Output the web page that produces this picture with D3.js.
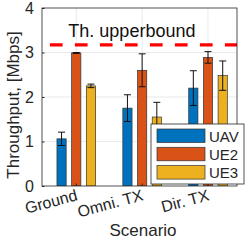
<!DOCTYPE html>
<html>
<head>
<meta charset="utf-8">
<script src="https://cdn.jsdelivr.net/npm/d3@7"></script>
<style>
  html, body { margin: 0; padding: 0; background: #fff; }
  svg { display: block; font-family: "Liberation Sans", Arial, sans-serif; }
</style>
</head>
<body>
<svg id="chart" width="250" height="242"></svg>
<script>
const scenarios = ['Ground', 'Omni. TX', 'Dir. TX'];
const seriesNames = ['UAV', 'UE2', 'UE3'];
const seriesColors = ['#0072BD', '#D95319', '#EDB120'];
const uavMean = [1.06, 1.75, 2.2];
const uavErr = [0.15, 0.3, 0.39];
const ue2Mean = [2.99, 2.6, 2.89];
const ue2Err = [0.01, 0.37, 0.13];
const ue3Mean = [2.25, 1.55, 2.48];
const ue3Err = [0.04, 0.33, 0.33];
const yTicks = [0, 1, 2, 3, 4];
const upperBound = 3.17;

const means = [uavMean, ue2Mean, ue3Mean];
const errs = [uavErr, ue2Err, ue3Err];

const svg = d3.select('#chart');
const plot = { left: 42, right: 237, top: 8, bottom: 186 };

const x = d3.scaleLinear().domain([0.48, 3.44]).range([plot.left, plot.right]);
const y = d3.scaleLinear().domain([0, 4]).range([plot.bottom, plot.top]);
const offset = 0.223;
const barW = 0.14;

svg.append('defs').append('clipPath').attr('id', 'clip')
  .append('rect').attr('x', plot.left).attr('y', plot.top)
  .attr('width', plot.right - plot.left).attr('height', plot.bottom - plot.top);

// grid
const grid = svg.append('g').attr('stroke', '#dcdcdc').attr('stroke-width', 0.6);
yTicks.slice(1, -1).forEach((t) => {
  grid.append('line').attr('x1', plot.left).attr('x2', plot.right).attr('y1', y(t)).attr('y2', y(t));
});
scenarios.forEach((s, i) => {
  grid.append('line').attr('x1', x(i + 1)).attr('x2', x(i + 1)).attr('y1', plot.top).attr('y2', plot.bottom);
});

// bars
const bars = svg.append('g').attr('clip-path', 'url(#clip)');
seriesNames.forEach((name, k) => {
  scenarios.forEach((s, i) => {
    const cx = i + 1 + (k - 1) * offset;
    bars.append('rect')
      .attr('x', x(cx - barW / 2))
      .attr('y', y(means[k][i]))
      .attr('width', x(cx + barW / 2) - x(cx - barW / 2))
      .attr('height', y(0) - y(means[k][i]))
      .attr('fill', seriesColors[k])
      .attr('stroke', '#333')
      .attr('stroke-width', 0.7);
  });
});

// error bars
const eb = svg.append('g').attr('stroke', '#111').attr('stroke-width', 1);
seriesNames.forEach((name, k) => {
  scenarios.forEach((s, i) => {
    const px = x(i + 1 + (k - 1) * offset);
    const lo = y(means[k][i] - errs[k][i]);
    const hi = y(means[k][i] + errs[k][i]);
    eb.append('line').attr('x1', px).attr('x2', px).attr('y1', lo).attr('y2', hi);
    eb.append('line').attr('x1', px - 3.5).attr('x2', px + 3.5).attr('y1', lo).attr('y2', lo);
    eb.append('line').attr('x1', px - 3.5).attr('x2', px + 3.5).attr('y1', hi).attr('y2', hi);
  });
});

// upper bound line
svg.append('line')
  .attr('clip-path', 'url(#clip)')
  .attr('x1', x(0.6)).attr('x2', x(3.44))
  .attr('y1', y(upperBound)).attr('y2', y(upperBound))
  .attr('stroke', '#ff0000').attr('stroke-width', 3.2)
  .attr('stroke-dasharray', '12.7,12.3');

svg.append('text')
  .attr('x', x(0.88)).attr('y', y(3.35))
  .attr('font-size', 18).attr('fill', '#111')
  .text('Th. upperbound');

// axes box
svg.append('rect')
  .attr('x', plot.left).attr('y', plot.top)
  .attr('width', plot.right - plot.left).attr('height', plot.bottom - plot.top)
  .attr('fill', 'none').attr('stroke', '#262626').attr('stroke-width', 0.8);

// y ticks
const yAxis = d3.axisLeft(y).tickValues(yTicks).tickSize(-2.5).tickPadding(8).tickFormat(d3.format('d'));
const yg = svg.append('g').attr('transform', `translate(${plot.left},0)`).call(yAxis);
yg.select('.domain').remove();
yg.selectAll('line').attr('stroke', '#262626');
yg.selectAll('text').attr('font-size', 16).attr('fill', '#262626').attr('font-family', '"Liberation Sans", Arial, sans-serif');

// x tick labels
const xg = svg.append('g');
scenarios.forEach((s, i) => {
  const px = x(i + 1);
  xg.append('line').attr('x1', px).attr('x2', px).attr('y1', plot.bottom).attr('y2', plot.bottom - 2.5).attr('stroke', '#262626');
  xg.append('text')
    .attr('transform', `translate(${px + 2},${plot.bottom + 14}) rotate(-15)`)
    .attr('text-anchor', 'end')
    .attr('font-size', 16).attr('fill', '#262626')
    .text(s);
});

svg.append('text')
  .attr('x', 143).attr('y', 236)
  .attr('text-anchor', 'middle')
  .attr('font-size', 17).attr('fill', '#262626')
  .text('Scenario');

svg.append('text')
  .attr('transform', `translate(19,${(plot.top + plot.bottom) / 2 + 8}) rotate(-90)`)
  .attr('text-anchor', 'middle')
  .attr('font-size', 17).attr('fill', '#262626')
  .text('Throughput, [Mbps]');

// legend
const lg = svg.append('g').attr('transform', 'translate(151,124)');
lg.append('rect').attr('width', 93).attr('height', 60)
  .attr('fill', '#fff').attr('stroke', '#262626').attr('stroke-width', 0.8);
seriesNames.forEach((name, k) => {
  const row = lg.append('g').attr('transform', `translate(6,${5 + k * 18.3})`);
  row.append('rect').attr('width', 48).attr('height', 13.5)
    .attr('fill', seriesColors[k]).attr('stroke', '#333').attr('stroke-width', 0.7);
  row.append('text').attr('x', 52).attr('y', 12.5)
    .attr('font-size', 15).attr('fill', '#262626').text(name);
});
</script>
</body>
</html>
